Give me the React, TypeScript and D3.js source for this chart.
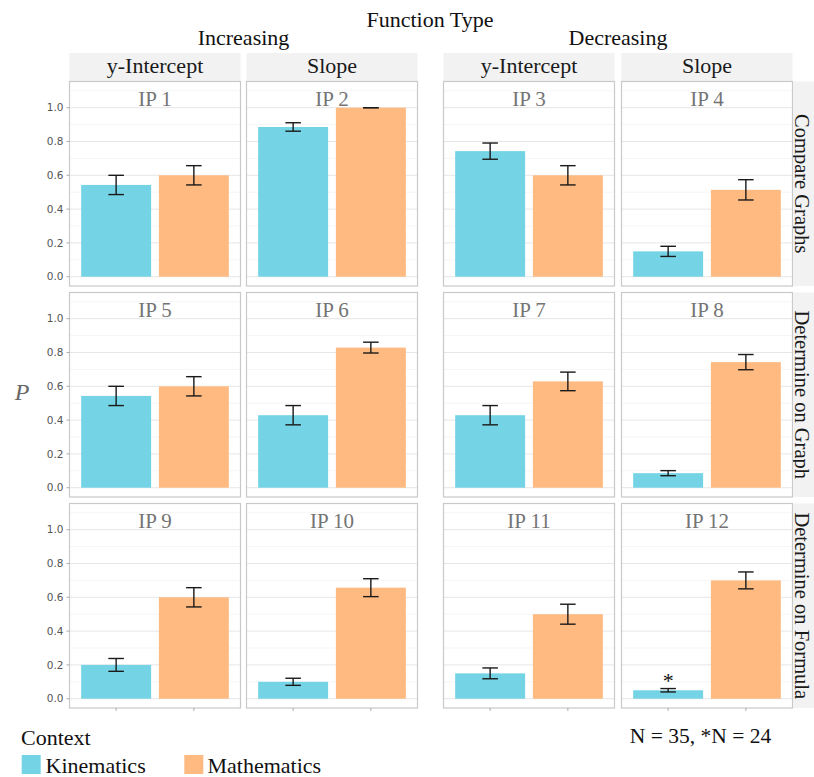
import React from "react";
import * as d3 from "d3";

const contexts = ["Kinematics", "Mathematics"];
const functionTypes = ["Increasing", "Decreasing"];
const colLabels = ["y-Intercept", "Slope", "y-Intercept", "Slope"];
const rowLabels = ["Compare Graphs", "Determine on Graph", "Determine on Formula"];
const ipLabels = ["IP 1", "IP 2", "IP 3", "IP 4", "IP 5", "IP 6", "IP 7", "IP 8", "IP 9", "IP 10", "IP 11", "IP 12"];
const kinematics = [0.543, 0.886, 0.743, 0.15, 0.543, 0.429, 0.429, 0.086, 0.2, 0.1, 0.15, 0.05];
const kinematicsErr = [0.057, 0.025, 0.048, 0.03, 0.057, 0.057, 0.057, 0.015, 0.038, 0.021, 0.032, 0.01];
const mathematics = [0.6, 1.0, 0.6, 0.514, 0.6, 0.829, 0.629, 0.743, 0.6, 0.657, 0.5, 0.7];
const mathematicsErr = [0.057, 0, 0.057, 0.06, 0.057, 0.032, 0.055, 0.045, 0.057, 0.053, 0.059, 0.05];
const starredPanel = 11; // IP 12 kinematics, N = 24
const yTicks = [0, 0.2, 0.4, 0.6, 0.8, 1.0];
const yMinor = [0.1, 0.3, 0.5, 0.7, 0.9, 1.1];
const noteText = "N = 35, *N = 24";

const colors: Record<string, string> = { Kinematics: "#74d4e6", Mathematics: "#feba80" };

const SERIF = "'Liberation Serif', 'Times New Roman', serif";
const SANS = "'DejaVu Sans', sans-serif";

const colLefts = [69.5, 246.5, 443.5, 621.5];
const rowTops = [81.5, 292.5, 503.5];
const PW = 171;
const PH = 204.5;
const STRIP = 28.5;

export default function App() {
  const x = d3.scaleBand<string>().domain(contexts).range([0, PW]).paddingInner(0.1).paddingOuter(0.15);
  const y = d3.scaleLinear().domain([-0.055, 1.155]).range([PH, 0]);
  const bw = x.bandwidth();
  const capW = bw * (0.2 / 0.9);

  const panels: any[] = [];
  for (let r = 0; r < 3; r++) {
    for (let c = 0; c < 4; c++) {
      const i = r * 4 + c;
      const vals = [
        { ctx: "Kinematics", v: kinematics[i], e: kinematicsErr[i] },
        { ctx: "Mathematics", v: mathematics[i], e: mathematicsErr[i] },
      ];
      panels.push(
        <g key={i} transform={`translate(${colLefts[c]},${rowTops[r]})`}>
          <rect x={0} y={0} width={PW} height={PH} fill="#ffffff" />
          {yMinor.map((t) => (
            <line key={"m" + t} x1={0} x2={PW} y1={y(t)} y2={y(t)} stroke="#f2f2f2" strokeWidth={0.8} />
          ))}
          {yTicks.map((t) => (
            <line key={"M" + t} x1={0} x2={PW} y1={y(t)} y2={y(t)} stroke="#e6e6e6" strokeWidth={1} />
          ))}
          {vals.map((d) => (
            <rect key={d.ctx} x={x(d.ctx)} y={y(d.v)} width={bw} height={y(0) - y(d.v)} fill={colors[d.ctx]} />
          ))}
          {vals.map((d) => {
            const cx = (x(d.ctx) as number) + bw / 2;
            return (
              <g key={"e" + d.ctx} stroke="#1a1a1a" strokeWidth={1.4} fill="none">
                <line x1={cx} x2={cx} y1={y(d.v + d.e)} y2={y(d.v - d.e)} />
                <line x1={cx - capW / 2} x2={cx + capW / 2} y1={y(d.v + d.e)} y2={y(d.v + d.e)} />
                <line x1={cx - capW / 2} x2={cx + capW / 2} y1={y(d.v - d.e)} y2={y(d.v - d.e)} />
              </g>
            );
          })}
          {i === starredPanel && (
            <text
              x={(x("Kinematics") as number) + bw / 2}
              y={y(kinematics[i] + kinematicsErr[i]) - 1}
              textAnchor="middle"
              fontFamily={SERIF}
              fontSize={22}
              fill="#111"
            >
              *
            </text>
          )}
          <text x={PW / 2} y={24.5} textAnchor="middle" fontFamily={SERIF} fontSize={21} fill="#747474">
            {ipLabels[i]}
          </text>
          <rect x={0} y={0} width={PW} height={PH} fill="none" stroke="#c9c9c9" strokeWidth={1.2} />
          {c === 0 &&
            yTicks.map((t) => (
              <g key={"t" + t}>
                <line x1={-3} x2={0} y1={y(t)} y2={y(t)} stroke="#999" strokeWidth={0.8} />
                <text x={-6} y={y(t)} dy="0.36em" textAnchor="end" fontFamily={SANS} fontSize={10.5} fill="#555">
                  {d3.format(".1f")(t)}
                </text>
              </g>
            ))}
          {r === 2 &&
            contexts.map((k) => (
              <line
                key={"x" + k}
                x1={(x(k) as number) + bw / 2}
                x2={(x(k) as number) + bw / 2}
                y1={PH}
                y2={PH + 3}
                stroke="#999"
                strokeWidth={0.8}
              />
            ))}
        </g>
      );
    }
  }

  return (
    <svg width={814} height={777} style={{ position: "absolute", left: 0, top: 0 }} fontFamily={SERIF}>
      <rect x={0} y={0} width={814} height={777} fill="#ffffff" />
      <text x={430} y={26.5} textAnchor="middle" fontSize={22} fill="#111">
        Function Type
      </text>
      {functionTypes.map((f, k) => (
        <text
          key={f}
          x={(colLefts[k * 2] + colLefts[k * 2 + 1] + PW) / 2}
          y={45}
          textAnchor="middle"
          fontSize={22}
          fill="#111"
        >
          {f}
        </text>
      ))}
      {colLabels.map((l, c) => (
        <g key={"cs" + c}>
          <rect x={colLefts[c]} y={rowTops[0] - STRIP} width={PW} height={STRIP} fill="#f2f2f2" />
          <text x={colLefts[c] + PW / 2} y={rowTops[0] - 8.5} textAnchor="middle" fontSize={22} fill="#1a1a1a">
            {l}
          </text>
        </g>
      ))}
      {rowLabels.map((l, r) => (
        <g key={"rs" + r}>
          <rect x={colLefts[3] + PW + 1} y={rowTops[r]} width={STRIP} height={PH} fill="#f2f2f2" />
          <text
            transform={`translate(${colLefts[3] + PW + 2.5},${rowTops[r] + PH / 2}) rotate(90)`}
            textAnchor="middle"
            fontSize={20.5}
            fill="#1a1a1a"
          >
            {l}
          </text>
        </g>
      ))}
      {panels}
      <text x={22} y={400} textAnchor="middle" fontSize={24} fontStyle="italic" fill="#666">
        P
      </text>
      <text x={21} y={745} fontSize={22} fill="#111">
        Context
      </text>
      {contexts.map((k, j) => (
        <g key={"lg" + k}>
          <rect x={21.7 + j * 162.6} y={755} width={19} height={19} fill={colors[k]} />
          <text x={45.5 + j * 162} y={773} fontSize={22} fill="#111">
            {k}
          </text>
        </g>
      ))}
      <text x={700.5} y={743} textAnchor="middle" fontSize={21.5} fill="#111">
        {noteText}
      </text>
    </svg>
  );
}
